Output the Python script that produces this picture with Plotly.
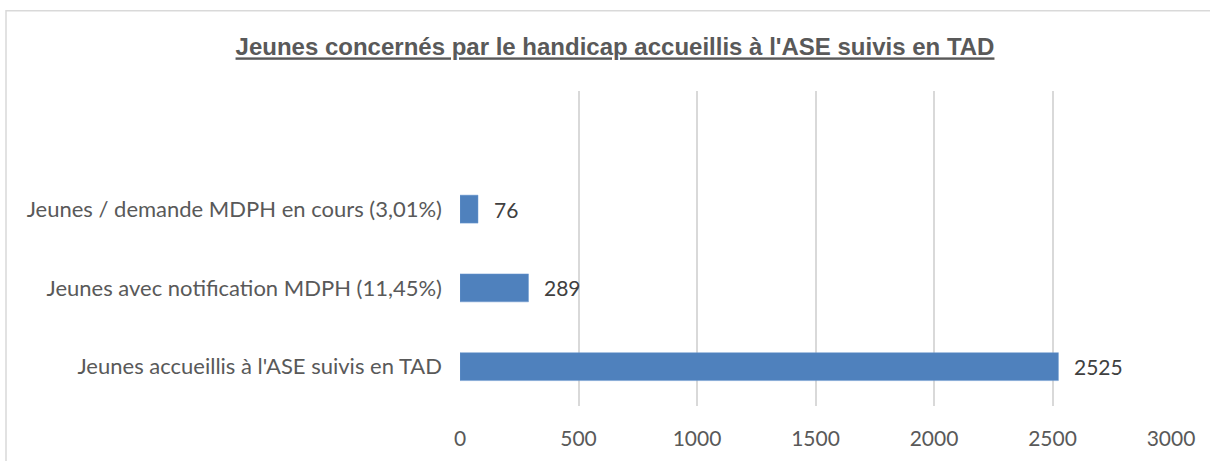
import plotly.graph_objects as go

categories = [
    "Jeunes accueillis à l'ASE suivis en TAD",
    "Jeunes avec notification MDPH (11,45%)",
    "Jeunes / demande MDPH en cours (3,01%)",
]
values = [2525, 289, 76]
x_ticks = [0, 500, 1000, 1500, 2000, 2500, 3000]
title_text = "Jeunes concernés par le handicap accueillis à l'ASE suivis en TAD"

W, H = 1210, 461
L, R, T, B = 460, 39, 90.5, 54.5
pw = W - L - R
ph = H - T - B

num_font = dict(family="Lato, Open Sans, sans-serif", size=21, color="#404040")
tick_font = dict(family="Lato, Open Sans, sans-serif", size=21, color="#595959")
cat_font = dict(family="Lato, Open Sans, sans-serif", size=22, color="#595959")

fig = go.Figure(
    go.Bar(
        y=list(range(len(categories))),
        x=values,
        orientation="h",
        width=0.355,
        marker=dict(color="#4F81BD", line=dict(color="#6F9AD0", width=0.5)),
        hoverinfo="x+y",
    )
)

for i, v in enumerate(values):
    fig.add_annotation(
        x=v,
        y=i,
        xref="x",
        yref="y",
        text=str(v),
        showarrow=False,
        xanchor="left",
        yanchor="middle",
        xshift=14,
        font=num_font,
    )

fig.update_layout(
    width=W,
    height=H,
    margin=dict(l=L, r=R, t=T, b=B, pad=0),
    paper_bgcolor="white",
    plot_bgcolor="white",
    showlegend=False,
    title=dict(
        text="<b><u>" + title_text + "</u></b>",
        x=615 / W,
        xref="container",
        xanchor="center",
        y=1 - 47 / H,
        yanchor="middle",
        font=dict(family="Liberation Sans, Arial, sans-serif", size=24, color="#595959"),
    ),
    xaxis=dict(
        range=[0, 3000],
        tickvals=x_ticks,
        ticktext=[str(t) for t in x_ticks],
        showgrid=True,
        gridcolor="#D9D9D9",
        gridwidth=1.5,
        zeroline=False,
        showline=False,
        ticks="",
        tickfont=tick_font,
        ticklabelstandoff=18,
    ),
    yaxis=dict(
        range=[-0.5, 3.5],
        tickvals=list(range(len(categories))),
        ticktext=categories,
        showgrid=False,
        zeroline=False,
        showline=False,
        ticks="",
        ticklabelstandoff=17,
        tickfont=cat_font,
    ),
)

# chart border (outer frame)
fig.add_shape(
    type="rect",
    xref="paper",
    yref="paper",
    x0=(6 - L) / pw,
    x1=(1230 - L) / pw,
    y0=(H - B - 480) / ph,
    y1=(H - B - 10) / ph,
    line=dict(color="#D9D9D9", width=1.5),
    fillcolor="rgba(0,0,0,0)",
    layer="below",
)

fig.write_html(
    "out.html",
    config={"displayModeBar": False},
    post_script="document.body.style.margin='0';document.body.style.overflow='hidden';",
)
